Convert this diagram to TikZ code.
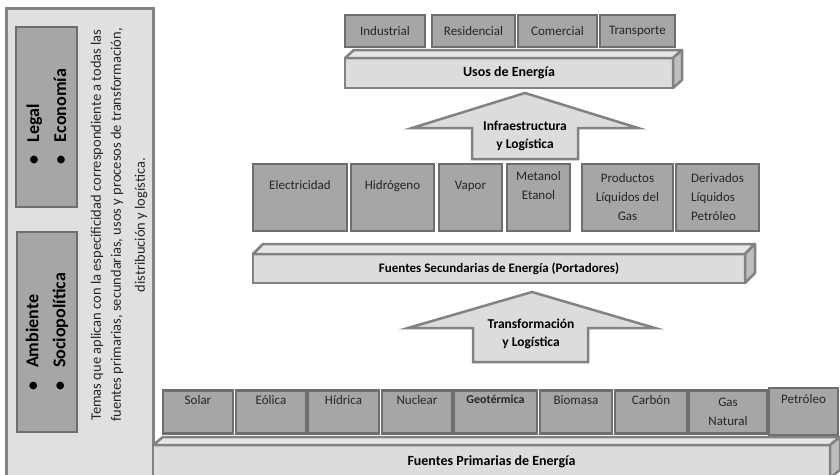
\documentclass[tikz,border=0pt]{standalone}
\usepackage{fontspec}
\setmainfont{Carlito}
\usepackage{xcolor}
\definecolor{boxgray}{HTML}{A6A6A6}
\definecolor{boxline}{HTML}{6E6E6E}
\definecolor{barfront}{HTML}{DCDCDC}
\definecolor{bartop}{HTML}{E6E6E6}
\definecolor{barside}{HTML}{BEBEBE}
\definecolor{barline}{HTML}{828282}
\definecolor{panelgray}{HTML}{E0E0E0}
\definecolor{txtgray}{HTML}{262626}
\tikzset{
    src-box/.style = {draw=boxline, fill=boxgray, line width=2.5pt, rectangle, inner sep=2pt, align=center, text=txtgray, font=\fontsize{13}{19}\selectfont},
    bar-front/.style = {draw=barline, fill=barfront, line width=2.5pt, rectangle, inner sep=0pt, outer sep=0pt, text=black, font=\bfseries\fontsize{14}{16}\selectfont},
    bar-top/.style = {draw=barline, fill=bartop, line width=2.5pt, line join=round},
    bar-side/.style = {draw=barline, fill=barside, line width=2.5pt, line join=round},
    up-arrow/.style = {draw=barline, fill=barfront, line width=2.5pt},
    arrow-text/.style = {align=center, text=black, font=\bfseries\fontsize{13.5}{18}\selectfont},
    theme-box/.style = {draw=boxline, fill=boxgray, line width=2.5pt, rectangle, rotate=90, align=left, text=black, font=\bfseries\fontsize{18}{27}\selectfont},
}

\begin{document}
\begin{tikzpicture}[x=1pt, y=-1pt]
\useasboundingbox (0,0) rectangle (840,474);
\clip (0,0) rectangle (840,474);

% left panel
\node[draw=barline, fill=panelgray, line width=2.5pt, minimum width=147, minimum height=475, anchor=north west, inner sep=0pt] (panel) at (5,7) {};
\node[theme-box, minimum width=180, minimum height=61] (legal) at (46.5,117) {\textbullet\hspace{14pt}Legal\\\textbullet\hspace{14pt}Economía};
\node[theme-box, minimum width=200, minimum height=60] (ambiente) at (47,332) {\textbullet\hspace{14pt}Ambiente\\\textbullet\hspace{14pt}Sociopolítica};
\node[rotate=90, align=center, text=txtgray, font=\fontsize{14.5}{20}\selectfont] (temas) at (119,225) {Temas que aplican con la especificidad correspondiente a todas las\\fuentes primarias, secundarias, usos y procesos de transformación,\\[4pt]distribución y logística.};

% usos
\node[src-box, minimum width=80, minimum height=32] (industrial) at (385,31) {Industrial};
\node[src-box, minimum width=83, minimum height=32] (residencial) at (473.5,31) {Residencial};
\node[src-box, minimum width=79, minimum height=32] (comercial) at (557.5,31) {Comercial};
\node[src-box, minimum width=75, minimum height=32] (transporte) at (637.5,31) {Transporte};

\node[bar-front, minimum width=328, minimum height=30] (usos) at (509,73) {Usos de Energía};
\draw[bar-top] (usos.north west) -- ++(9,-8) -- ++(328,0) -- (usos.north east) -- cycle;
\draw[bar-side] (usos.north east) -- ++(9,-8) -- ++(0,30) -- (usos.south east) -- cycle;

\draw[up-arrow] (472,159) -- (472,128) -- (412,128) -- (525,93) -- (638,128) -- (578,128) -- (578,159) -- cycle;
\node[arrow-text] (infra) at (525,136) {Infraestructura\\y Logística};

% portadores
\node[src-box, minimum width=94, minimum height=67] (electricidad) at (300,197.5) {Electricidad\\\strut};
\node[src-box, minimum width=83, minimum height=67] (hidrogeno) at (392.5,197.5) {Hidrógeno\\\strut};
\node[src-box, minimum width=63, minimum height=67] (vapor) at (470.5,197.5) {Vapor\\\strut};
\node[src-box, minimum width=63, minimum height=67] (metanol) at (538.5,197.5) {Metanol\\Etanol\\\strut};
\node[src-box, minimum width=91, minimum height=67] (productos) at (627.5,197.5) {Productos\\Líquidos del\\Gas};
\node[src-box, minimum width=83, minimum height=67, align=left] (derivados) at (717.5,197.5) {Derivados\\Líquidos\\Petróleo};

\node[bar-front, minimum width=492, minimum height=29, font=\bfseries\fontsize{13}{16}\selectfont] (secundarias) at (499,268.5) {Fuentes Secundarias de Energía (Portadores)};
\draw[bar-top] (secundarias.north west) -- ++(10,-10) -- ++(492,0) -- (secundarias.north east) -- cycle;
\draw[bar-side] (secundarias.north east) -- ++(10,-10) -- ++(0,29) -- (secundarias.south east) -- cycle;

\draw[up-arrow] (473,362) -- (473,328) -- (408,328) -- (532,292) -- (655,328) -- (588,328) -- (588,362) -- cycle;
\node[arrow-text] (transf) at (531,334) {Transformación\\y Logística};

% fuentes primarias
\node[src-box, minimum width=70, minimum height=43] (solar) at (198,412) {Solar\\\strut};
\node[src-box, minimum width=70, minimum height=43] (eolica) at (271,412) {Eólica\\\strut};
\node[src-box, minimum width=71, minimum height=43] (hidrica) at (343.5,412) {Hídrica\\\strut};
\node[src-box, minimum width=70, minimum height=43] (nuclear) at (417,412) {Nuclear\\\strut};
\node[src-box, minimum width=83, minimum height=43, font=\bfseries\fontsize{12}{19}\selectfont] (geotermica) at (495.5,412) {Geotérmica\\\strut};
\node[src-box, minimum width=72, minimum height=43] (biomasa) at (576,412) {Biomasa\\\strut};
\node[src-box, minimum width=72, minimum height=43] (carbon) at (651,412) {Carbón\\\strut};
\node[src-box, minimum width=78, minimum height=43] (gas) at (728,412) {Gas\\Natural};
\node[src-box, minimum width=69, minimum height=47] (petroleo) at (803.5,411.5) {Petróleo\\\strut};

\node[bar-front, minimum width=677, minimum height=33] (primarias) at (491.5,461.5) {Fuentes Primarias de Energía};
\draw[bar-top] (primarias.north west) -- ++(10,-8) -- ++(677,0) -- (primarias.north east) -- cycle;
\draw[bar-side] (primarias.north east) -- ++(10,-8) -- ++(0,33) -- (primarias.south east) -- cycle;
\end{tikzpicture}
\end{document}
